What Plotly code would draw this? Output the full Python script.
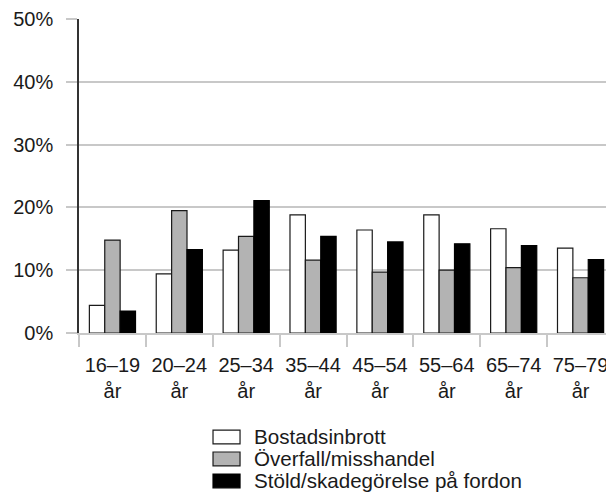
import plotly.graph_objects as go

# Åldersgrupper
kategorier = ['16–19<br>år', '20–24<br>år', '25–34<br>år', '35–44<br>år',
              '45–54<br>år', '55–64<br>år', '65–74<br>år', '75–79<br>år']

# Andel utsatta (%)
bostadsinbrott = [4.4, 9.4, 13.2, 18.8, 16.4, 18.8, 16.6, 13.5]
overfall = [14.8, 19.5, 15.4, 11.6, 9.7, 10.0, 10.4, 8.8]
stold_fordon = [3.5, 13.3, 21.1, 15.4, 14.5, 14.2, 13.9, 11.7]

y_ticks = [0, 10, 20, 30, 40, 50]
y_ticktext = ['0%', '10%', '20%', '30%', '40%', '50%']

serier = [
    ('Bostadsinbrott', bostadsinbrott, '#ffffff', '#1a1a1a'),
    ('Överfall/misshandel', overfall, '#b3b3b3', '#1a1a1a'),
    ('Stöld/skadegörelse på fordon', stold_fordon, '#000000', '#000000'),
]

fig = go.Figure()

for namn, varden, fyll, kant in serier:
    fig.add_trace(go.Bar(
        x=kategorier, y=varden, name=namn,
        marker=dict(color=fyll, line=dict(color=kant, width=1.2))
    ))

# Egen teckenförklaring (rektanglar + text) under diagrammet
for i, (namn, varden, fyll, kant) in enumerate(serier):
    yc = -0.331 - i * 0.070
    fig.add_shape(
        type='rect', xref='paper', yref='paper',
        x0=0.2505, x1=0.301, y0=yc - 0.022, y1=yc + 0.022,
        fillcolor=fyll, line=dict(color=kant, width=1.2)
    )
    fig.add_annotation(
        xref='paper', yref='paper', x=0.3234, y=yc,
        xanchor='left', yanchor='middle', showarrow=False,
        text=namn, font=dict(size=20.6)
    )

fig.update_layout(
    width=614, height=504,
    margin=dict(l=71, r=8, t=11, b=179),
    barmode='group',
    bargap=0.31,
    bargroupgap=0,
    showlegend=False,
    plot_bgcolor='white',
    paper_bgcolor='white',
    font=dict(family='Liberation Sans, Arial, sans-serif', size=20, color='#1a1a1a'),
)

fig.update_xaxes(
    type='category',
    range=[-0.5, 7.5],
    automargin=False,
    showline=True, linecolor='#c8c8c8', linewidth=2,
    ticks='outside', tickson='boundaries', ticklen=12, tickcolor='#c8c8c8', tickwidth=2,
    showgrid=False,
    tickfont=dict(size=20),
    ticklabelstandoff=13,
)
fig.update_yaxes(
    range=[0, 50],
    automargin=False,
    tickvals=y_ticks, ticktext=y_ticktext,
    showgrid=True, gridcolor='#c8c8c8', gridwidth=2,
    showline=True, linecolor='#333333', linewidth=1.5,
    ticks='outside', ticklen=11, tickcolor='#c8c8c8', tickwidth=2,
    zeroline=False,
    tickfont=dict(size=20),
    ticklabelstandoff=9,
)

fig.write_html('out.html')
